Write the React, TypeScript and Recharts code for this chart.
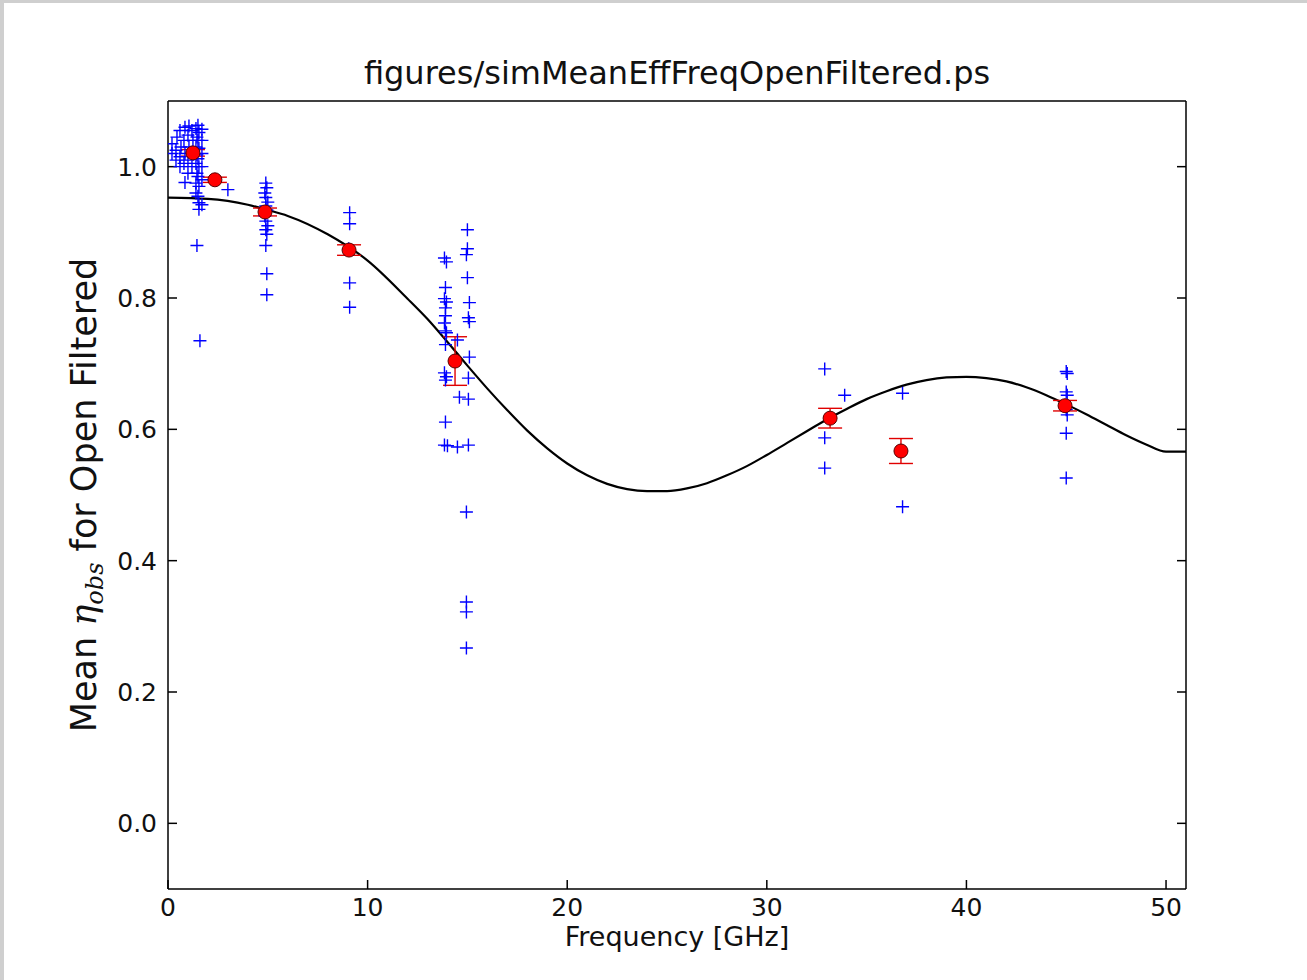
import React from "react";
import { ComposedChart, Line, Scatter, XAxis, YAxis, ErrorBar, Label } from "recharts";

const xTicks = [0, 10, 20, 30, 40, 50];
const yTicks = [0, 0.2, 0.4, 0.6, 0.8, 1.0];

// mean efficiency per band (red points)
const meanFreq = [1.25, 2.35, 4.86, 9.07, 14.38, 33.17, 36.72, 44.94];
const meanEff = [1.021, 0.98, 0.931, 0.873, 0.704, 0.617, 0.567, 0.636];
const meanErr = [0.005, 0.004, 0.006, 0.008, 0.037, 0.015, 0.019, 0.008];

// model curve (black line)
const modelFreq = [0, 2, 4, 5, 6, 8, 10, 12, 13, 14, 15, 16, 17, 18, 19, 20, 21, 22, 23, 24, 25, 26, 27, 28, 29, 30, 31, 32, 33, 34, 35, 36, 37, 38, 39, 40, 41, 42, 43, 44, 45, 46, 47, 48, 49, 50, 51];
const modelEff = [0.953, 0.951, 0.942, 0.934, 0.925, 0.897, 0.857, 0.799, 0.768, 0.733, 0.697, 0.662, 0.629, 0.598, 0.571, 0.548, 0.53, 0.517, 0.509, 0.506, 0.506, 0.51, 0.518, 0.53, 0.544, 0.561, 0.579, 0.597, 0.615, 0.631, 0.646, 0.658, 0.668, 0.675, 0.679, 0.68, 0.678, 0.673, 0.664, 0.652, 0.638, 0.623, 0.607, 0.591, 0.577, 0.566, 0.566];

// individual measurements (blue crosses), [freq, eff]
const lBand: [number, number][] = [
  [0.2, 1.02], [0.2, 1.035], [0.4, 1.01], [0.4, 1.025], [0.45, 1.045], [0.6, 1.0], [0.6, 1.015],
  [0.65, 1.03], [0.6, 1.055], [0.85, 0.976], [0.8, 1.005], [0.85, 1.02], [0.8, 1.04], [0.85, 1.06],
  [1.0, 0.99], [1.0, 1.01], [1.05, 1.03], [1.0, 1.048], [1.05, 1.062], [1.2, 1.0], [1.2, 1.022],
  [1.25, 1.04], [1.2, 1.055], [1.4, 0.96], [1.4, 0.975], [1.45, 0.99], [1.4, 1.005], [1.45, 1.018],
  [1.4, 1.03], [1.45, 1.045], [1.4, 1.058], [1.45, 0.88], [1.55, 0.935], [1.55, 0.945], [1.5, 0.955],
  [1.55, 0.97], [1.5, 0.985], [1.55, 1.0], [1.5, 1.012], [1.55, 1.028], [1.5, 1.04], [1.55, 1.052],
  [1.5, 1.063], [1.7, 0.942], [1.7, 0.98], [1.7, 1.0], [1.7, 1.02], [1.7, 1.04], [1.7, 1.057],
  [1.6, 0.735], [3.0, 0.965],
];
const cBand: [number, number][] = [
  [4.9, 0.975], [4.95, 0.968], [4.85, 0.96], [4.9, 0.953], [5.0, 0.946], [4.9, 0.94], [4.95, 0.934],
  [4.85, 0.925], [4.9, 0.917], [5.0, 0.91], [4.9, 0.904], [4.95, 0.897], [4.9, 0.88], [4.95, 0.837],
  [4.95, 0.805],
];
const xBand: [number, number][] = [[9.1, 0.93], [9.1, 0.913], [9.05, 0.875], [9.1, 0.823], [9.1, 0.786]];
const uBand: [number, number][] = [
  [13.85, 0.861], [13.95, 0.855], [13.9, 0.816], [13.85, 0.799], [13.95, 0.794], [13.9, 0.785],
  [13.9, 0.773], [13.85, 0.762], [13.9, 0.75], [13.95, 0.747], [13.9, 0.729], [13.85, 0.686],
  [13.95, 0.68], [13.9, 0.675], [13.9, 0.611], [13.85, 0.576], [14.0, 0.575],
  [14.5, 0.736], [14.6, 0.649], [14.5, 0.573],
  [15.0, 0.904], [15.0, 0.875], [14.95, 0.866], [15.0, 0.831], [15.1, 0.793], [15.05, 0.77],
  [15.1, 0.764], [15.1, 0.71], [15.05, 0.678], [15.05, 0.646], [15.05, 0.576], [14.95, 0.474],
  [14.95, 0.337], [14.95, 0.322], [14.95, 0.267],
];
const kaBand: [number, number][] = [[32.9, 0.692], [32.9, 0.587], [32.9, 0.541], [33.9, 0.652], [36.8, 0.655], [36.8, 0.482]];
const qBand: [number, number][] = [
  [45.0, 0.688], [45.05, 0.685], [45.0, 0.657], [45.05, 0.652], [45.0, 0.63], [45.05, 0.622],
  [45.0, 0.594], [45.0, 0.526],
];

const crossData = [...lBand, ...cBand, ...xBand, ...uBand, ...kaBand, ...qBand].map(([f, v]) => ({ f, v }));
const meanData = meanFreq.map((f, i) => ({ f, v: meanEff[i], err: meanErr[i] }));
const modelData = modelFreq.map((f, i) => ({ f, v: modelEff[i] }));

const FONT = "'DejaVu Sans', sans-serif";

const Cross = (props: any) => {
  const { cx, cy } = props;
  return <path d={`M${cx - 6.5},${cy}h13M${cx},${cy - 6.5}v13`} stroke="#0000ff" strokeWidth={1.4} fill="none" />;
};

const RedDot = (props: any) => {
  const { cx, cy } = props;
  return <circle cx={cx} cy={cy} r={7} fill="#ff0000" stroke="#5a0000" strokeWidth={1} />;
};

const tickStyle = { fontSize: 25, fill: "#111", fontFamily: FONT };

export default function App() {
  return (
    <div style={{ position: "absolute", left: 0, top: 0, width: 1307, height: 980, background: "#fff" }}>
      <div style={{ position: "absolute", left: 0, top: 0, width: 1307, height: 3, background: "#cfcfcf" }} />
      <div style={{ position: "absolute", left: 0, top: 0, width: 4, height: 980, background: "#cfcfcf" }} />
      <ComposedChart width={1307} height={980} margin={{ top: 100, right: 120, bottom: 90, left: 167 }}>
        <XAxis
          dataKey="f"
          type="number"
          domain={[0, 51]}
          ticks={xTicks}
          allowDataOverflow
          height={1}
          stroke="#000"
          strokeWidth={1.5}
          tickSize={-9}
          tickMargin={18}
          tick={tickStyle}
        >
          <Label
            content={(p: any) => (
              <text x={p.viewBox.x + p.viewBox.width / 2} y={946} textAnchor="middle" fontSize={27} fontFamily={FONT} fill="#111">
                Frequency [GHz]
              </text>
            )}
          />
        </XAxis>
        <XAxis
          xAxisId="top"
          orientation="top"
          type="number"
          domain={[0, 51]}
          ticks={xTicks}
          allowDataOverflow
          height={1}
          stroke="#000"
          strokeWidth={1.5}
          tickSize={-9}
          tickFormatter={() => ""}
        >
          <Label
            content={(p: any) => (
              <text x={p.viewBox.x + p.viewBox.width / 2} y={84} textAnchor="middle" fontSize={32} fontFamily={FONT} fill="#111">
                figures/simMeanEffFreqOpenFiltered.ps
              </text>
            )}
          />
        </XAxis>
        <YAxis
          dataKey="v"
          type="number"
          domain={[-0.1, 1.1]}
          ticks={yTicks}
          allowDataOverflow
          width={1}
          stroke="#000"
          strokeWidth={1.5}
          tickSize={-9}
          tickMargin={20}
          tick={tickStyle}
          tickFormatter={(t: number) => t.toFixed(1)}
        >
          <Label
            content={(p: any) => {
              const cy = p.viewBox.y + p.viewBox.height / 2;
              return (
                <text x={96} y={cy} transform={`rotate(-90 96 ${cy})`} textAnchor="middle" fontSize={35} fontFamily={FONT} fill="#111">
                  Mean{" "}
                  <tspan fontStyle="italic" fontFamily="'DejaVu Serif', serif">η</tspan>
                  <tspan fontStyle="italic" fontFamily="'DejaVu Serif', serif" fontSize={24} dy={7}>obs</tspan>
                  <tspan dy={-7}> for Open Filtered</tspan>
                </text>
              );
            }}
          />
        </YAxis>
        <YAxis
          yAxisId="right"
          orientation="right"
          type="number"
          domain={[-0.1, 1.1]}
          ticks={yTicks}
          allowDataOverflow
          width={1}
          stroke="#000"
          strokeWidth={1.5}
          tickSize={-9}
          tickFormatter={() => ""}
        />
        <Scatter data={crossData} shape={Cross} isAnimationActive={false} />
        <Line
          data={modelData}
          dataKey="v"
          type="monotone"
          stroke="#000"
          strokeWidth={2.2}
          dot={false}
          activeDot={false}
          isAnimationActive={false}
        />
        <Scatter data={meanData} shape={RedDot} isAnimationActive={false}>
          <ErrorBar dataKey="err" direction="y" width={12} stroke="#e00000" strokeWidth={1.4} />
        </Scatter>
      </ComposedChart>
    </div>
  );
}
